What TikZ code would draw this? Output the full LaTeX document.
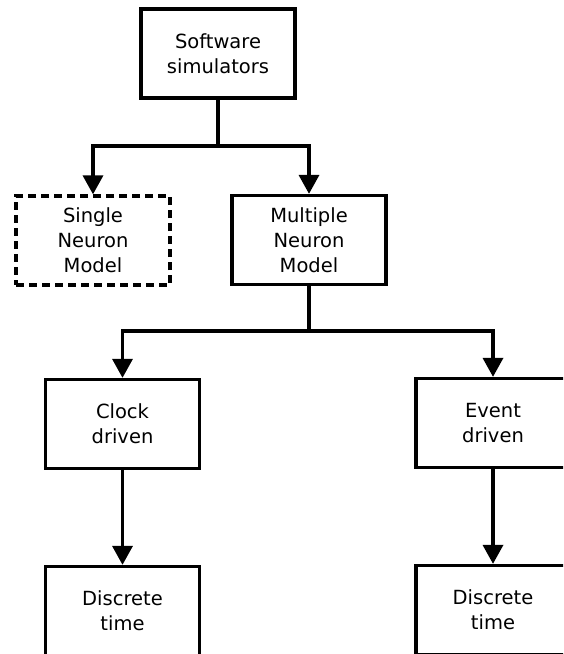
\documentclass[tikz,border=0pt]{standalone}
\usepackage{fontspec}
\setmainfont{DejaVu Sans}
\usetikzlibrary{arrows.meta,positioning,calc}

\tikzset{
  simbox/.style={draw,line width=3.3pt,minimum width=154pt,minimum height=89pt,
    align=center,font=\fontsize{19.5}{25}\selectfont,inner sep=2pt},
  optbox/.style={simbox,dash pattern=on 8pt off 5pt},
  link/.style={line width=3.5pt},
  arr/.style={link,-{Triangle[width=20pt,length=19pt]}}
}

\begin{document}
\begin{tikzpicture}[x=1pt,y=-1pt]
        \useasboundingbox (0,0) rectangle (563,654);
        \clip (0,0) rectangle (563,654);
        \node[simbox] (soft) at (218,53.5) {Software\\simulators};
        \node[optbox] (single) at (93,240.5) {Single\\Neuron\\Model};
        \node[simbox] (multi) at (309,240) {Multiple\\Neuron\\Model};
        \node[simbox] (clock) at (122.5,424) {Clock\\driven};
        \node[simbox] (event) at (493,423) {Event\\driven};
        \node[simbox] (discA) at (122.5,611) {Discrete\\time};
        \node[simbox] (discB) at (493,610) {Discrete\\time};
        % branch points
        \coordinate (splitA) at (218,146);
        \coordinate (splitB) at (309,331);
        \draw[link] (soft.south) -- (splitA);
        \draw[arr] (splitA) -| (single.north);
        \draw[arr] (splitA) -| (multi.north);
        \draw[link] (multi.south) -- (splitB);
        \draw[arr] (splitB) -| (clock.north);
        \draw[arr] (splitB) -| (event.north);
        \draw[arr] (clock.south) -- (discA.north);
        \draw[arr] (event.south) -- (discB.north);
      \end{tikzpicture}
\end{document}
